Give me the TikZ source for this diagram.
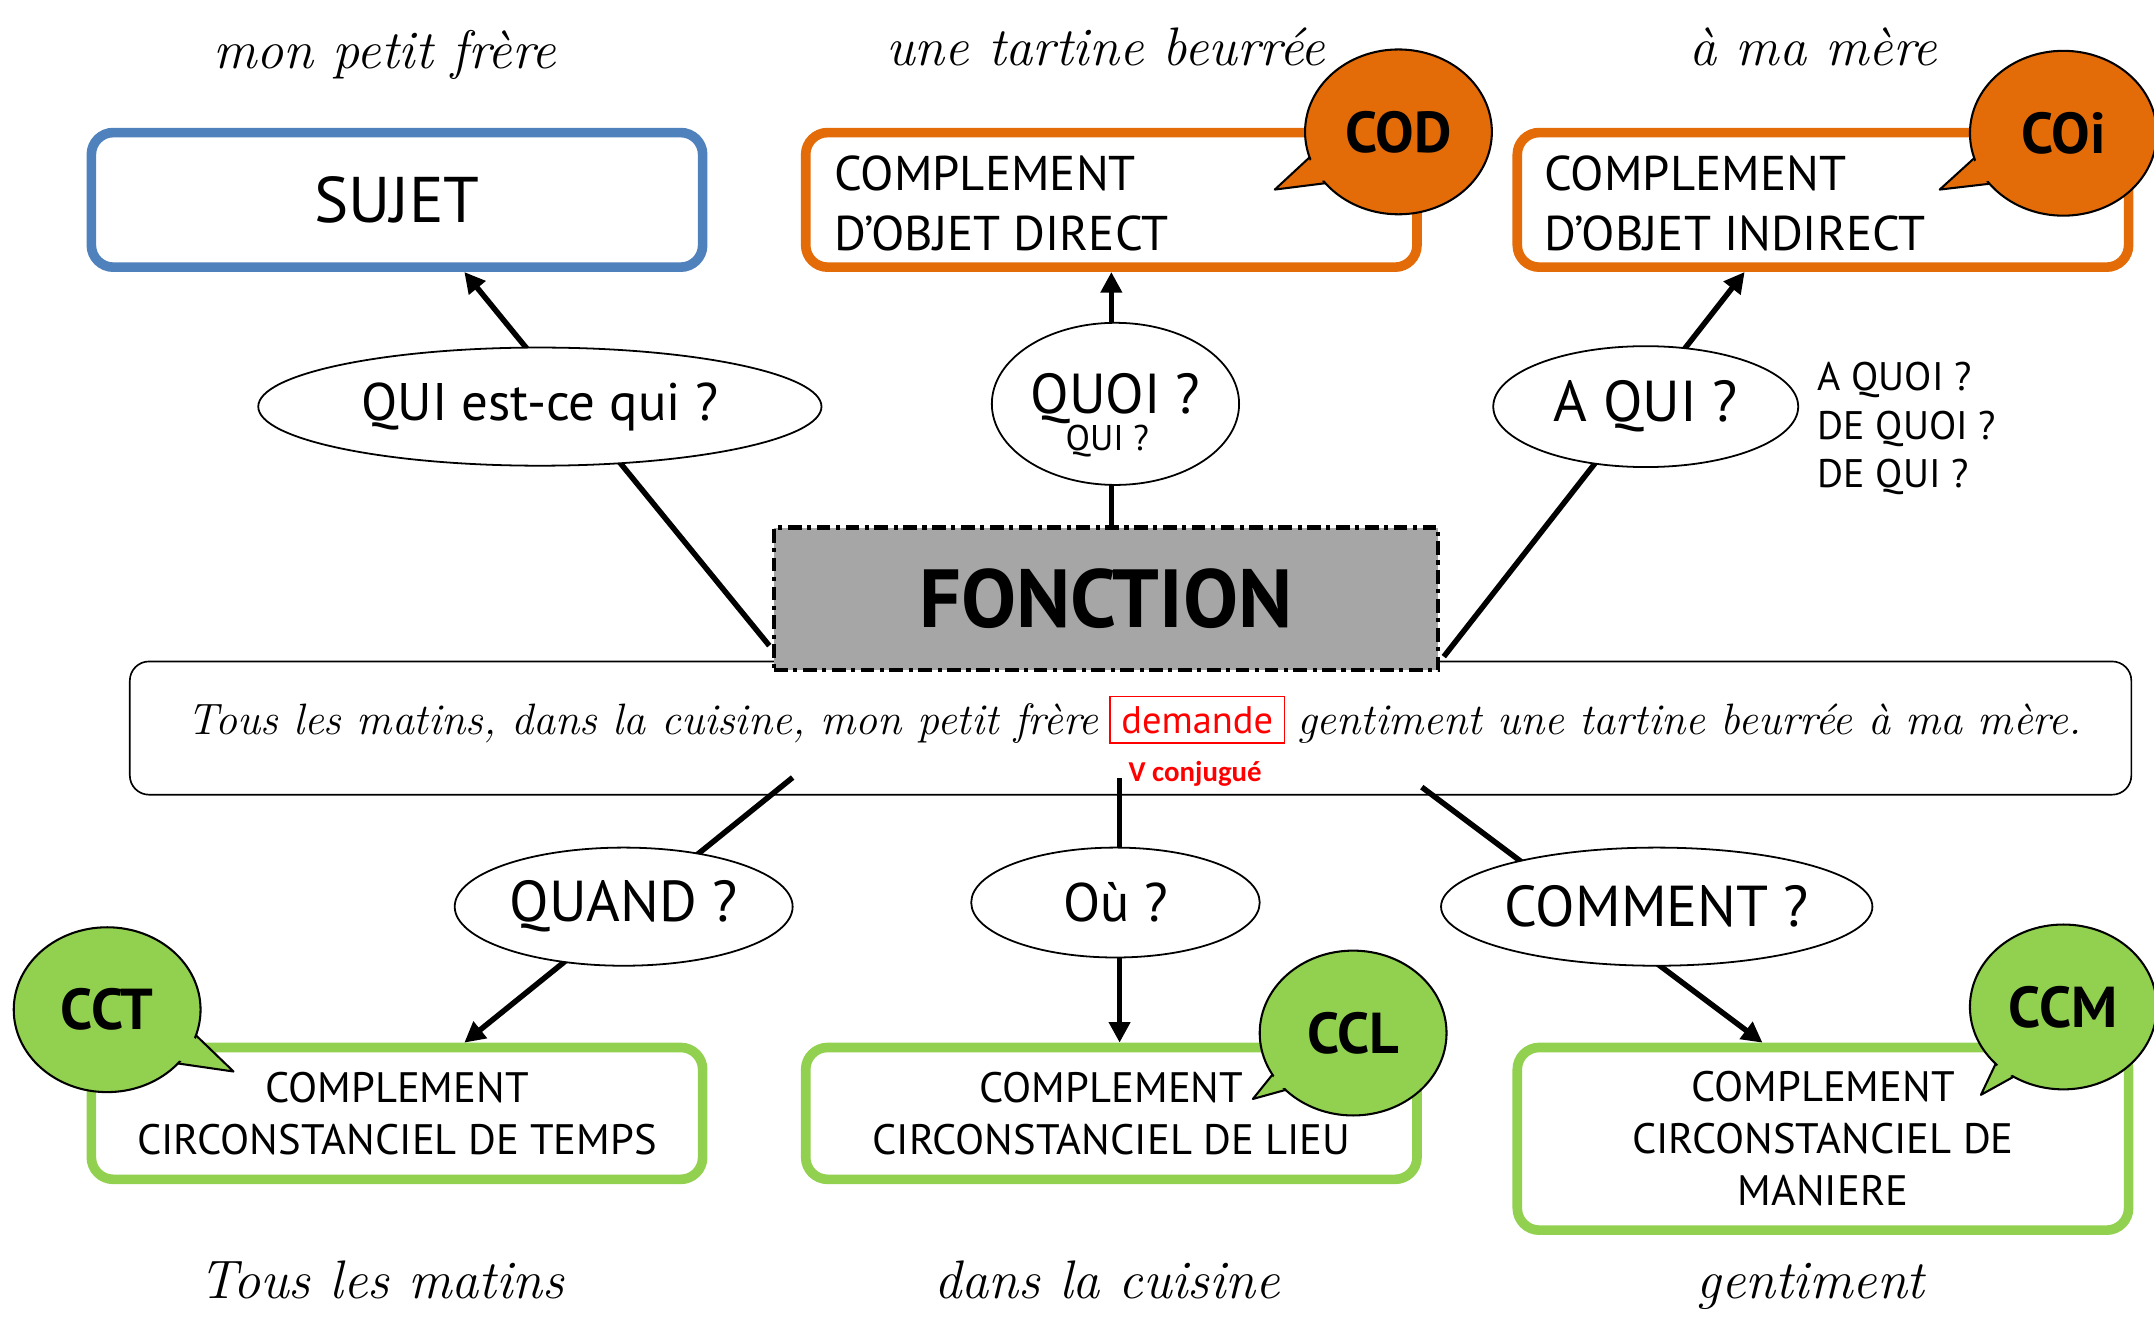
\documentclass[tikz,border=0pt]{standalone}
\usepackage{fontspec}
\setmainfont{PT Sans}
\newfontfamily\vfont{Carlito}
\usetikzlibrary{shapes.geometric,arrows.meta,calc}
\definecolor{cblue}{HTML}{4F81BD}
\definecolor{corange}{HTML}{E36C09}
\definecolor{cgreen}{HTML}{92D050}
\definecolor{cgray}{HTML}{A6A6A6}
\definecolor{cred}{HTML}{FF0000}
\newcommand\cursive{\fontencoding{TU}\fontfamily{lmr}\fontseries{m}\fontshape{it}\selectfont}
\newcommand\fsz[2]{\fontsize{#1}{#2}\selectfont}
\tikzset{
  lab/.style={font=\cursive\fsz{39.5}{46}, inner sep=0pt, anchor=base},
  fnbox/.style={draw=#1, line width=7pt, rounded corners=16pt, fill=white, minimum width=445pt, inner sep=0pt},
  qell/.style={ellipse, draw, line width=1.3pt, fill=white, inner sep=0pt, font=\fsz{42}{44}},
  conn/.style={line width=4pt, -{Triangle[length=15pt,width=15pt]}},
  bubble/.style={ellipse, draw, line width=1.5pt, fill=#1, minimum width=136pt, minimum height=120pt, inner sep=0pt, font=\bfseries\fsz{42}{44}},
}
\newcommand\mybubble[5]{%
  \coordinate (#1c) at #2; \coordinate (#1tip) at #3;
  \draw[line width=1.5pt, fill=#4, line join=round] (#1tip) -- ($(#1c)!0.55!16:(#1tip)$) -- ($(#1c)!0.55!-16:(#1tip)$) -- cycle;
  \node[bubble=#4] (#1) at (#1c) {#5};
  \fill[#4] ($(#1tip)!4pt!(#1c)$) -- ($(#1c)!0.55!13:(#1tip)$) -- ($(#1c)!0.55!-13:(#1tip)$) -- cycle;
}
\begin{document}
\begin{tikzpicture}[x=1pt,y=-1pt]
\useasboundingbox (0,0) rectangle (1568,968);
% top labels
\node[lab] (l1) at (280,50) {mon petit frère};
\node[lab] (l2) at (805,48) {une tartine beurrée};
\node[lab] (l3) at (1320,48) {à ma mère};
% top boxes
\node[fnbox=cblue, minimum height=98pt, font=\fsz{47}{50}] (sujet) at (289,145.5) {SUJET};
\node[fnbox=corange, minimum height=98pt] (cod) at (809,145.5) {};
\node[anchor=west, align=left, font=\fsz{35.5}{44}, inner sep=0pt] (codtxt) at (607,148) {COMPLEMENT\\D’OBJET DIRECT};
\node[fnbox=corange, minimum height=98pt] (coi) at (1327,145.5) {};
\node[anchor=west, align=left, font=\fsz{35.5}{44}, inner sep=0pt] (coitxt) at (1124,148) {COMPLEMENT\\D’OBJET INDIRECT};
% bottom boxes
\node[fnbox=cgreen, minimum height=96pt, align=center, font=\fsz{31}{38}] (cct) at (289,810.5) {COMPLEMENT\\CIRCONSTANCIEL DE TEMPS};
\node[fnbox=cgreen, minimum height=96pt, align=center, font=\fsz{31}{38}] (ccl) at (809,810.5) {COMPLEMENT\\CIRCONSTANCIEL DE LIEU};
\node[fnbox=cgreen, minimum height=133pt, align=center, font=\fsz{31}{38}] (ccm) at (1327,829) {COMPLEMENT\\CIRCONSTANCIEL DE\\MANIERE};
% sentence
\node[draw, line width=1.2pt, rounded corners=14pt, minimum width=1457pt, minimum height=97pt, fill=white] (sent) at (823,530) {};
\node[anchor=base east, font=\cursive\fsz{32}{36}, inner sep=0pt] (sa) at (800,535) {Tous les matins, dans la cuisine, mon petit frère};
\node[draw=cred, line width=1.2pt, text=cred, minimum width=127pt, minimum height=34pt, inner sep=0pt, font=\fsz{28}{30}] (dem) at (871.5,524) {demande};
\node[anchor=base west, font=\cursive\fsz{32}{36}, inner sep=0pt] (sb) at (944,535) {gentiment une tartine beurrée à ma mère.};
\node[font=\vfont\bfseries\fsz{21}{22}, text=cred, inner sep=0pt] (vconj) at (870,563) {V conjugué};
% fonction
\node[draw, dash pattern=on 10pt off 4pt on 3pt off 4pt, line width=3pt, fill=cgray, minimum width=483pt, minimum height=104pt, font=\bfseries\fsz{60}{62}] (fonction) at (805,436) {FONCTION};
% connectors
\coordinate (quis) at (560,470);
\coordinate (aquis) at (1051,478);
\coordinate (quands) at (577,566);
\coordinate (ous) at (815,566);
\coordinate (comms) at (1035,573);
\draw[conn] (quis) -- ($(sujet.south)+(49,0)$);
\draw[conn] (fonction.north -| cod.south) -- (cod.south);
\draw[conn] (aquis) -- ($(coi.south)+(-57,0)$);
\draw[conn] (quands) -- ($(cct.north)+(49,0)$);
\draw[conn] (ous) -- (ous |- ccl.north);
\draw[conn] (comms) -- ($(ccm.north)+(-44,0)$);
% question ellipses
\node[qell, minimum width=410pt, minimum height=86pt, font=\fsz{38.5}{40}] (qui) at (393,296) {QUI est-ce qui ?};
\node[qell, minimum width=180pt, minimum height=118pt] (quoi) at (812,294) {};
\node[font=\fsz{41}{42}, inner sep=0pt] (quoitxt) at (812,290) {QUOI ?};
\node[font=\fsz{26}{28}, inner sep=0pt] (quoisub) at (806,321) {QUI ?};
\node[qell, minimum width=222pt, minimum height=88pt] (aqui) at (1198,296) {A QUI ?};
\node[anchor=west, align=left, font=\fsz{29}{35.5}, inner sep=0pt] (aside) at (1323,312) {A QUOI ?\\DE QUOI ?\\DE QUI ?};
\node[qell, minimum width=246pt, minimum height=86pt] (quand) at (454,660) {QUAND ?};
\node[qell, minimum width=210pt, minimum height=80pt, font=\fsz{39.5}{41}] (ou) at (812,657) {Où ?};
\node[qell, minimum width=314pt, minimum height=86pt] (comment) at (1206,660) {COMMENT ?};
% bubbles
\mybubble{bcod}{(1018,96)}{(928,138)}{corange}{COD}
\mybubble{bcoi}{(1502,97)}{(1412,138)}{corange}{COi}
\mybubble{bcct}{(78,735)}{(170,780)}{cgreen}{CCT}
\mybubble{bccl}{(985,752)}{(912,800)}{cgreen}{CCL}
\mybubble{bccm}{(1502,733)}{(1442,797)}{cgreen}{CCM}
% bottom labels
\node[lab] (b1) at (278,945) {Tous les matins};
\node[lab] (b2) at (806,945) {dans la cuisine};
\node[lab] (b3) at (1318,945) {gentiment};
\end{tikzpicture}
\end{document}
